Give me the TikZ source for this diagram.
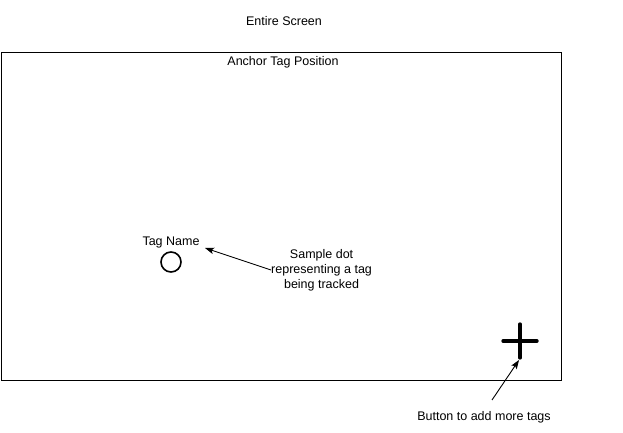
\documentclass[tikz,border=0pt]{standalone}
\usepackage{fontspec}
\setmainfont{Liberation Sans}
\usetikzlibrary{arrows.meta}
\begin{document}
\begin{tikzpicture}[x=1pt,y=-1pt,
  lbl/.style={font=\fontsize{12.5}{15}\selectfont, inner sep=0pt, align=center},
  conn/.style={line width=0.9pt, -{Stealth[length=9pt,width=6.5pt,inset=2pt]}},
  frame/.style={draw, line width=0.9pt}]
\useasboundingbox (0,0) rectangle (623,433);
\node[lbl] (screen) at (284,21) {Entire Screen};
\draw[frame] (1,52) rectangle (561,380);
\node[lbl] (anchor) at (283,62) {Anchor Tag Position};
\node[draw, circle, line width=1.6pt, minimum size=20pt, inner sep=0pt] (dot) at (171,262) {};
\node[lbl] (tagname) at (171,242) {Tag Name};
\node[lbl, anchor=west] (sample) at (271,270) {Sample dot\\representing a tag\\being tracked};
\coordinate (tip1) at (205,248);
\draw[conn] (sample.west) -- (tip1);
\node[minimum size=33pt, inner sep=0pt] (plus) at (520,341) {};
\draw[line width=4pt, line cap=round] (plus.north) -- (plus.south);
\draw[line width=4pt, line cap=round] (plus.west) -- (plus.east);
\node[lbl] (button) at (484,417) {Button to add more tags};
\coordinate (from2) at (492,400);
\coordinate (tip2) at (519,360);
\draw[conn] (from2) -- (tip2);
\end{tikzpicture}
\end{document}
